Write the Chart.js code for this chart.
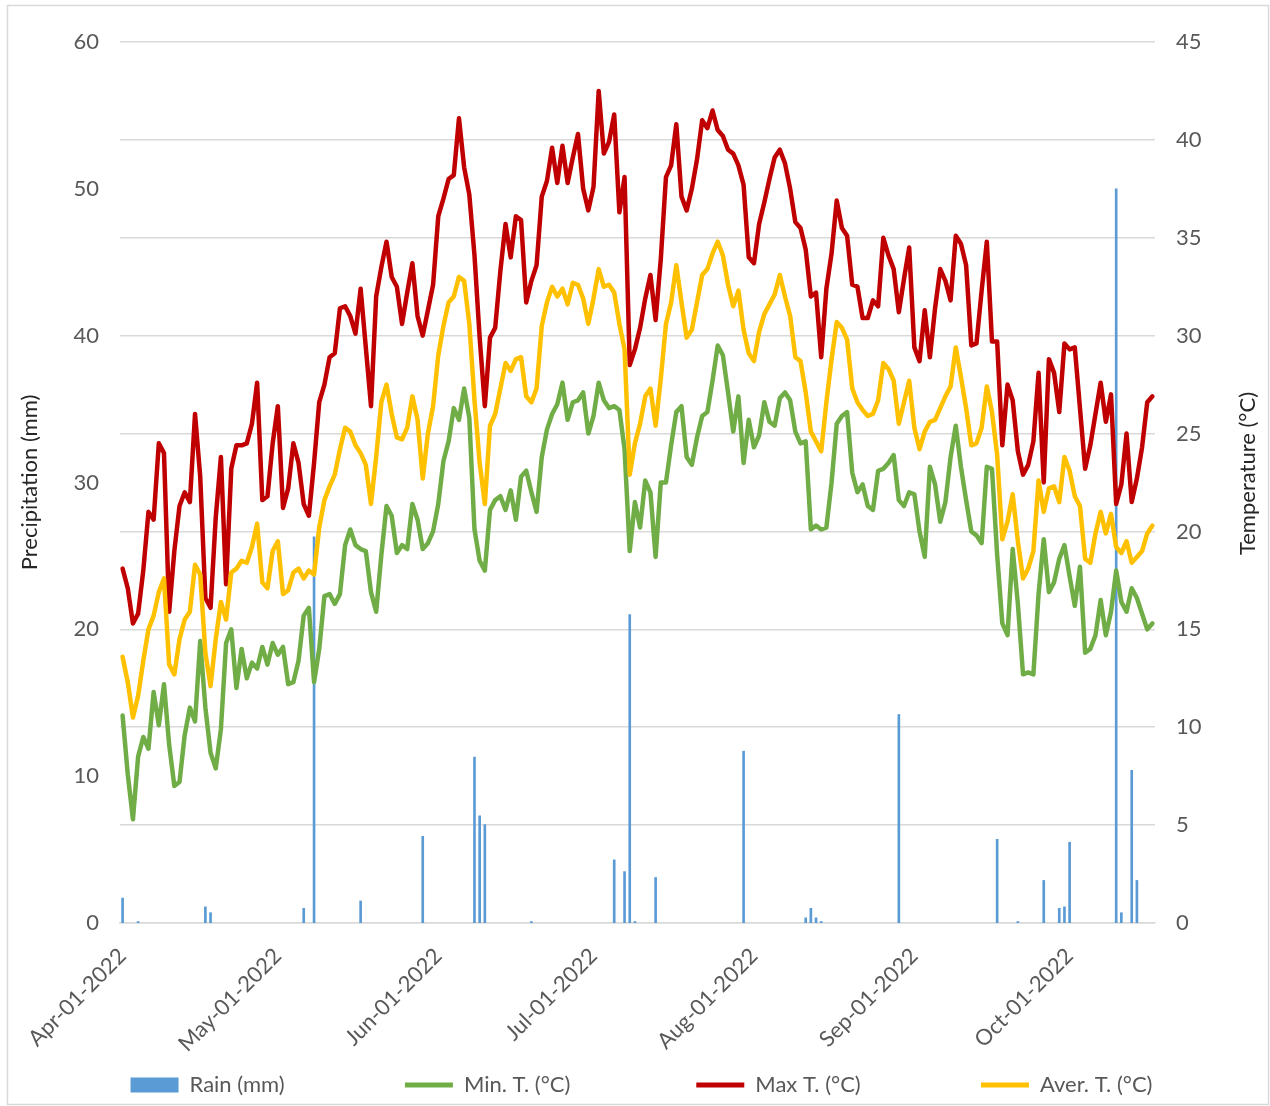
<!DOCTYPE html>
<html>
<head>
<meta charset="utf-8">
<title>Rain and temperature, Apr–Oct 2022</title>
<script src="https://cdn.jsdelivr.net/npm/chart.js@4.4.1/dist/chart.umd.min.js"></script>
<style>
  html, body { margin: 0; padding: 0; background: #fff; }
  #wrap { position: relative; width: 1270px; height: 1106px; }
</style>
</head>
<body>
<div id="wrap"><canvas id="weatherChart"></canvas></div>
<script>
// daily series, one value per day starting Apr-01-2022
const firstDay = '2022-04-01';
const dayCount = 200;

const maxT = [
  18.1, 17.1, 15.3, 15.8, 18.0, 21.0, 20.6, 24.5, 24.0, 15.9,
  19.0, 21.3, 22.0, 21.5, 26.0, 22.8, 16.6, 16.1, 20.7, 23.8,
  17.3, 23.2, 24.4, 24.4, 24.5, 25.5, 27.6, 21.6, 21.8, 24.5,
  26.4, 21.2, 22.2, 24.5, 23.5, 21.4, 20.8, 23.5, 26.6, 27.5,
  28.9, 29.1, 31.4, 31.5, 31.0, 30.1, 32.4, 29.4, 26.4, 32.0,
  33.5, 34.8, 33.0, 32.5, 30.6, 32.2, 33.7, 31.0, 30.0, 31.3,
  32.6, 36.1, 37.0, 38.0, 38.2, 41.1, 38.6, 37.2, 34.1, 29.9,
  26.4, 29.9, 30.4, 33.3, 35.7, 34.0, 36.1, 35.9, 31.7, 32.8,
  33.6, 37.1, 37.9, 39.6, 37.8, 39.7, 37.8, 39.1, 40.3, 37.5,
  36.4, 37.6, 42.5, 39.3, 39.9, 41.3, 36.3, 38.1, 28.5, 29.3,
  30.4, 31.9, 33.1, 30.8, 33.9, 38.1, 38.7, 40.8, 37.1, 36.4,
  37.5, 39.0, 41.0, 40.6, 41.5, 40.5, 40.2, 39.5, 39.3, 38.7,
  37.7, 34.0, 33.7, 35.7, 36.8, 38.0, 39.1, 39.5, 38.8, 37.5,
  35.8, 35.5, 34.4, 32.0, 32.2, 28.9, 32.4, 34.2, 36.9, 35.5,
  35.1, 32.6, 32.5, 30.9, 30.9, 31.8, 31.5, 35.0, 34.1, 33.4,
  31.2, 32.9, 34.5, 29.4, 28.7, 31.3, 28.9, 31.4, 33.4, 32.8,
  31.8, 35.1, 34.7, 33.6, 29.5, 29.6, 32.3, 34.8, 29.7, 29.7,
  24.4, 27.5, 26.7, 24.1, 22.9, 23.4, 24.6, 28.1, 22.5, 28.8,
  28.1, 26.1, 29.6, 29.3, 29.4, 26.3, 23.2, 24.4, 26.0, 27.6,
  25.6, 27.0, 21.4, 22.4, 25.0, 21.5, 22.7, 24.3, 26.6, 26.9
];

const averT = [
  13.6, 12.3, 10.5, 11.6, 13.4, 15.0, 15.7, 16.9, 17.6, 13.2,
  12.7, 14.5, 15.5, 15.9, 18.3, 17.8, 13.8, 12.1, 14.5, 16.4,
  15.5, 17.9, 18.1, 18.5, 18.4, 19.2, 20.4, 17.4, 17.1, 19.0,
  19.5, 16.8, 17.0, 17.9, 18.1, 17.6, 18.0, 17.8, 20.2, 21.6,
  22.3, 22.9, 24.2, 25.3, 25.1, 24.4, 24.0, 23.4, 21.4, 23.8,
  26.6, 27.5, 26.0, 24.8, 24.7, 25.3, 26.9, 25.7, 22.7, 25.0,
  26.4, 29.0, 30.5, 31.7, 32.0, 33.0, 32.8, 30.6, 26.7, 23.5,
  21.4, 25.4, 26.0, 27.3, 28.6, 28.2, 28.8, 28.9, 26.9, 26.6,
  27.3, 30.5, 31.7, 32.5, 32.0, 32.4, 31.6, 32.7, 32.6, 31.9,
  30.6, 31.9, 33.4, 32.5, 32.6, 32.2, 30.6, 29.3, 22.9, 24.5,
  25.5, 26.9, 27.3, 25.4, 27.8, 30.6, 31.7, 33.6, 31.7, 29.9,
  30.3, 31.7, 33.1, 33.4, 34.2, 34.8, 34.1, 32.6, 31.5, 32.3,
  30.3, 29.1, 28.7, 30.2, 31.1, 31.6, 32.1, 33.1, 32.0, 31.0,
  28.9, 28.7, 27.1, 25.1, 24.6, 24.1, 26.6, 28.8, 30.7, 30.4,
  29.8, 27.3, 26.6, 26.2, 25.9, 26.0, 26.7, 28.6, 28.3, 27.7,
  25.5, 26.6, 27.7, 25.3, 24.2, 25.1, 25.6, 25.7, 26.3, 26.9,
  27.4, 29.4, 27.9, 26.3, 24.4, 24.5, 25.3, 27.4, 26.1, 23.9,
  19.6, 20.5, 21.9, 19.5, 17.6, 18.1, 19.0, 22.6, 21.0, 22.2,
  22.3, 21.5, 23.8, 23.1, 21.8, 21.3, 18.6, 18.4, 19.9, 21.0,
  19.9, 20.9, 19.2, 18.9, 19.5, 18.4, 18.7, 19.0, 19.9, 20.3
];

const minT = [
  10.6, 7.6, 5.3, 8.5, 9.5, 8.9, 11.8, 10.1, 12.2, 9.1,
  7.0, 7.2, 9.6, 11.0, 10.3, 14.4, 11.0, 8.7, 7.9, 9.9,
  14.3, 15.0, 12.0, 14.0, 12.5, 13.3, 13.0, 14.1, 13.2, 14.3,
  13.7, 14.1, 12.2, 12.3, 13.4, 15.7, 16.1, 12.3, 14.0, 16.7,
  16.8, 16.3, 16.8, 19.3, 20.1, 19.3, 19.1, 19.0, 16.9, 15.9,
  18.8, 21.3, 20.8, 18.9, 19.3, 19.1, 21.4, 20.6, 19.1, 19.4,
  20.0, 21.4, 23.6, 24.6, 26.3, 25.7, 27.3, 25.8, 20.1, 18.5,
  18.0, 21.1, 21.6, 21.8, 21.1, 22.1, 20.6, 22.8, 23.1, 22.0,
  21.0, 23.8, 25.2, 26.0, 26.5, 27.6, 25.7, 26.6, 26.7, 27.1,
  25.0, 25.9, 27.6, 26.7, 26.3, 26.4, 26.2, 24.2, 19.0, 21.5,
  20.2, 22.6, 22.0, 18.7, 22.5, 22.5, 24.4, 26.1, 26.4, 23.8,
  23.4, 24.8, 25.9, 26.1, 27.7, 29.5, 29.0, 27.1, 25.1, 26.9,
  23.5, 25.7, 24.3, 24.9, 26.6, 25.6, 25.4, 26.8, 27.1, 26.7,
  25.1, 24.5, 24.6, 20.1, 20.3, 20.1, 20.2, 22.5, 25.5, 25.9,
  26.1, 23.0, 22.0, 22.4, 21.3, 21.1, 23.1, 23.2, 23.5, 23.9,
  21.6, 21.3, 22.0, 21.9, 20.0, 18.7, 23.3, 22.4, 20.5, 21.5,
  23.8, 25.4, 23.3, 21.6, 20.0, 19.8, 19.4, 23.3, 23.2, 18.8,
  15.3, 14.7, 19.1, 16.3, 12.7, 12.8, 12.7, 16.8, 19.6, 16.9,
  17.4, 18.6, 19.3, 17.7, 16.2, 18.2, 13.8, 14.0, 14.7, 16.5,
  14.7, 15.9, 18.0, 16.4, 15.9, 17.1, 16.6, 15.8, 15.0, 15.3
];

// rain only on these days (index from Apr-01), mm
const rainDay = [0, 3, 16, 17, 35, 37, 46, 58, 68, 69, 70, 79, 95, 97, 98, 99, 103, 120,
                 132, 133, 134, 135, 150, 169, 173, 178, 181, 182, 183, 192, 193, 195, 196];
const rainMm  = [1.7, 0.1, 1.1, 0.7, 1.0, 26.3, 1.5, 5.9, 11.3, 7.3, 6.7, 0.1, 4.3, 3.5, 21.0, 0.1, 3.1, 11.7,
                 0.35, 1.0, 0.35, 0.1, 14.2, 5.7, 0.1, 2.9, 1.0, 1.1, 5.5, 50.0, 0.7, 10.4, 2.9];

const seriesNames = ['Rain (mm)', 'Min. T. (°C)', 'Max T. (°C)', 'Aver. T. (°C)'];
const rainTicks = { min: 0, max: 60, step: 10 };
const tempTicks = { min: 0, max: 45, step: 5 };

// build the day labels, e.g. "Apr-01-2022"
const monthAbbr = ['Jan','Feb','Mar','Apr','May','Jun','Jul','Aug','Sep','Oct','Nov','Dec'];
const dayLabels = [];
const start = new Date(firstDay + 'T00:00:00');
for (let i = 0; i < dayCount; i++) {
  const d = new Date(start.getFullYear(), start.getMonth(), start.getDate() + i);
  const dd = String(d.getDate()).padStart(2, '0');
  dayLabels.push(monthAbbr[d.getMonth()] + '-' + dd + '-' + d.getFullYear());
}

// dry days stay empty so no zero-height bar is drawn
const rainData = new Array(dayCount).fill(null);
rainDay.forEach((d, i) => { rainData[d] = rainMm[i]; });

const isMonthStart = (i) => dayLabels[i] && dayLabels[i].slice(4, 6) === '01';

const FONT = 'Lato';
const tickGrey = '#595959';
const titleInk = '#262626';
const gridGrey = '#d9d9d9';

// legend text slots so the items spread like the original
const legendTextSlot = [213, 225, 220];

const rightTitle = {
  id: 'rightTitle',
  afterDraw(chart) {
    const { ctx, chartArea } = chart;
    ctx.save();
    ctx.translate(1248, (chartArea.top + chartArea.bottom) / 2 - 9);
    ctx.rotate(-Math.PI / 2);
    ctx.textAlign = 'center';
    ctx.textBaseline = 'middle';
    ctx.font = '22px ' + FONT;
    ctx.fillStyle = titleInk;
    ctx.fillText('Temperature (°C)', 0, 0);
    ctx.restore();
  }
};

const frame = {
  id: 'frame',
  beforeDraw(chart) {
    const { ctx, width, height } = chart;
    ctx.save();
    ctx.fillStyle = '#fff';
    ctx.fillRect(0, 0, width, height);
    ctx.restore();
  },
  afterDraw(chart) {
    const { ctx } = chart;
    ctx.save();
    ctx.strokeStyle = gridGrey;
    ctx.lineWidth = 1.5;
    ctx.strokeRect(7.5, 5.5, 1261, 1099);
    ctx.restore();
  }
};

function lineSet(label, data, color, order) {
  return {
    type: 'line',
    label: label,
    data: data,
    yAxisID: 'y1',
    borderColor: color,
    backgroundColor: color,
    borderWidth: 4.5,
    borderJoinStyle: 'round',
    borderCapStyle: 'round',
    pointRadius: 0,
    pointHoverRadius: 0,
    pointStyle: 'line',
    tension: 0,
    order: order
  };
}

new Chart(document.getElementById('weatherChart'), {
  type: 'bar',
  data: {
    labels: dayLabels,
    datasets: [
      {
        type: 'bar',
        label: seriesNames[0],
        data: rainData,
        yAxisID: 'y',
        backgroundColor: '#5b9bd5',
        borderWidth: 0,
        barThickness: 2,
        pointStyle: 'rect',
        order: 4
      },
      lineSet(seriesNames[1], minT, '#70ad47', 3),
      lineSet(seriesNames[2], maxT, '#c00000', 2),
      lineSet(seriesNames[3], averT, '#ffc000', 1)
    ]
  },
  options: {
    responsive: true,
    maintainAspectRatio: false,
    animation: false,
    layout: { padding: { left: 13, right: 0, top: 42, bottom: 0 } },
    plugins: {
      tooltip: { enabled: false },
      legend: {
        position: 'bottom',
        labels: {
          font: { family: FONT, size: 22 },
          color: tickGrey,
          usePointStyle: true,
          pointStyleWidth: 48,
          boxHeight: 15,
          padding: 2,
          sort: (a, b) => a.datasetIndex - b.datasetIndex,
          generateLabels(chart) {
            const items = Chart.defaults.plugins.legend.labels.generateLabels(chart);
            const ctx = chart.ctx;
            ctx.save();
            ctx.font = '22px ' + FONT;
            items.forEach((it) => {
              const slot = legendTextSlot[it.datasetIndex];
              if (slot) {
                while (ctx.measureText(it.text).width < slot) it.text += '\u00a0';
              }
              if (it.datasetIndex > 0) it.lineWidth = 5;
            });
            ctx.restore();
            return items;
          }
        }
      }
    },
    scales: {
      x: {
        type: 'category',
        offset: true,
        grid: {
          offset: true,
          drawOnChartArea: false,
          drawTicks: true,
          tickLength: 8,
          lineWidth: 1.5,
          color: (c) => (c.tick && isMonthStart(c.index)) ? gridGrey : 'rgba(0,0,0,0)'
        },
        border: { display: true, color: gridGrey, width: 1.5 },
        ticks: {
          autoSkip: false,
          maxRotation: 45,
          minRotation: 45,
          padding: 12,
          color: tickGrey,
          font: { family: FONT, size: 22 },
          callback(value, index) { return isMonthStart(index) ? dayLabels[index] : null; }
        },
        afterFit(scale) { scale.height = 149; }
      },
      y: {
        position: 'left',
        min: rainTicks.min,
        max: rainTicks.max,
        grid: { display: false, drawTicks: false },
        border: { display: false },
        ticks: {
          stepSize: rainTicks.step,
          padding: 21,
          color: tickGrey,
          font: { family: FONT, size: 22 }
        },
        title: {
          display: true,
          text: 'Precipitation (mm)',
          color: titleInk,
          font: { family: FONT, size: 22 },
          padding: { top: 4, bottom: 4 }
        },
        afterFit(scale) { scale.width = 107; }
      },
      y1: {
        position: 'right',
        min: tempTicks.min,
        max: tempTicks.max,
        grid: { color: gridGrey, lineWidth: 1.5, drawTicks: false },
        border: { display: false },
        ticks: {
          stepSize: tempTicks.step,
          padding: 21,
          color: tickGrey,
          font: { family: FONT, size: 22 }
        },
        afterFit(scale) { scale.width = 115; }
      }
    }
  },
  plugins: [frame, rightTitle]
});
</script>
</body>
</html>
